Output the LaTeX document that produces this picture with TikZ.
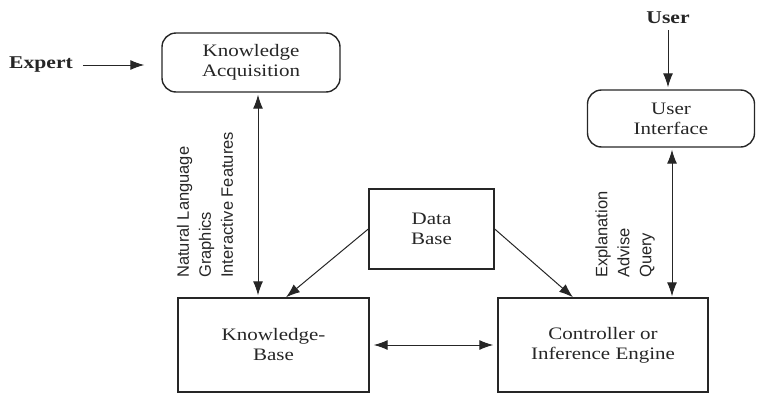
\documentclass[tikz,border=0pt]{standalone}
\usepackage{fontspec}
\setmainfont{Liberation Serif}[FakeStretch=1.2]
\newfontfamily\lblfont{Liberation Sans}
\usetikzlibrary{arrows.meta}

\definecolor{ink}{HTML}{262626}

\tikzset{
  boxtext/.style={font=\fontsize{17.5}{20}\selectfont, text=ink, align=center, inner sep=0pt},
  plainbox/.style={boxtext, draw=ink, line width=1.4pt},
  roundbox/.style={plainbox, rounded corners=14pt},
  actor/.style={font=\fontsize{18}{20}\selectfont\bfseries, text=ink, inner sep=0pt},
  sidelabel/.style={font=\lblfont\fontsize{16.5}{22}\selectfont, text=ink, rotate=90,
    anchor=west, align=left, inner sep=0pt},
  flow/.style={draw=ink, line width=1pt, -{Latex[length=14pt,width=10pt]}},
  twoway/.style={draw=ink, line width=1pt, {Latex[length=14pt,width=10pt]}-{Latex[length=14pt,width=10pt]}}
}

\begin{document}
\begin{tikzpicture}[x=1pt,y=-1pt]
  \useasboundingbox (0,0) rectangle (757,394);

  % boxes
  \node[roundbox, minimum width=178pt, minimum height=59pt] (ka) at (251,62.5)
       {Knowledge\\Acquisition};
  \node[roundbox, minimum width=167pt, minimum height=57pt] (ui) at (671,118.5)
       {User\\Interface};
  \node[plainbox, minimum width=125pt, minimum height=80pt] (db) at (431.5,229)
       {Data\\Base};
  \node[plainbox, minimum width=191pt, minimum height=94pt] (kb) at (273.5,345)
       {Knowledge-\\Base};
  \node[plainbox, minimum width=210pt, minimum height=94pt] (ce) at (603,345)
       {Controller or\\Inference Engine};

  % outside actors
  \node[actor] (expert) at (41,65) {Expert};
  \node[actor] (user) at (668,18) {User};

  % side labels along the vertical links
  \node[sidelabel] (kalbl) at (205,278) {Natural Language\\Graphics\\Interactive Features};
  \node[sidelabel] (uilbl) at (625,278) {Explanation\\Advise\\Query};

  % columns of the vertical links
  \coordinate (kacol) at (258,0);
  \coordinate (uicol) at (672,0);
  \coordinate (usercol) at (668,0);

  % connectors
  \draw[flow, shorten <=10pt, shorten >=17pt] (expert.east) -- (ka.west |- expert.east);
  \draw[flow, shorten <=6pt, shorten >=2pt] (user.south) -- (ui.north -| usercol);
  \draw[twoway, shorten <=2pt, shorten >=2pt] (ka.south -| kacol) -- (kb.north -| kacol);
  \draw[twoway, shorten <=2pt, shorten >=1pt] (ui.south -| uicol) -- (ce.north -| uicol);
  \draw[flow] (db.west) -- ([xshift=12.5pt]kb.north);
  \draw[flow] (db.east) -- ([xshift=-30pt]ce.north);
  \draw[twoway, shorten <=4pt, shorten >=4pt] (kb.east) -- (ce.west);
\end{tikzpicture}
\end{document}
